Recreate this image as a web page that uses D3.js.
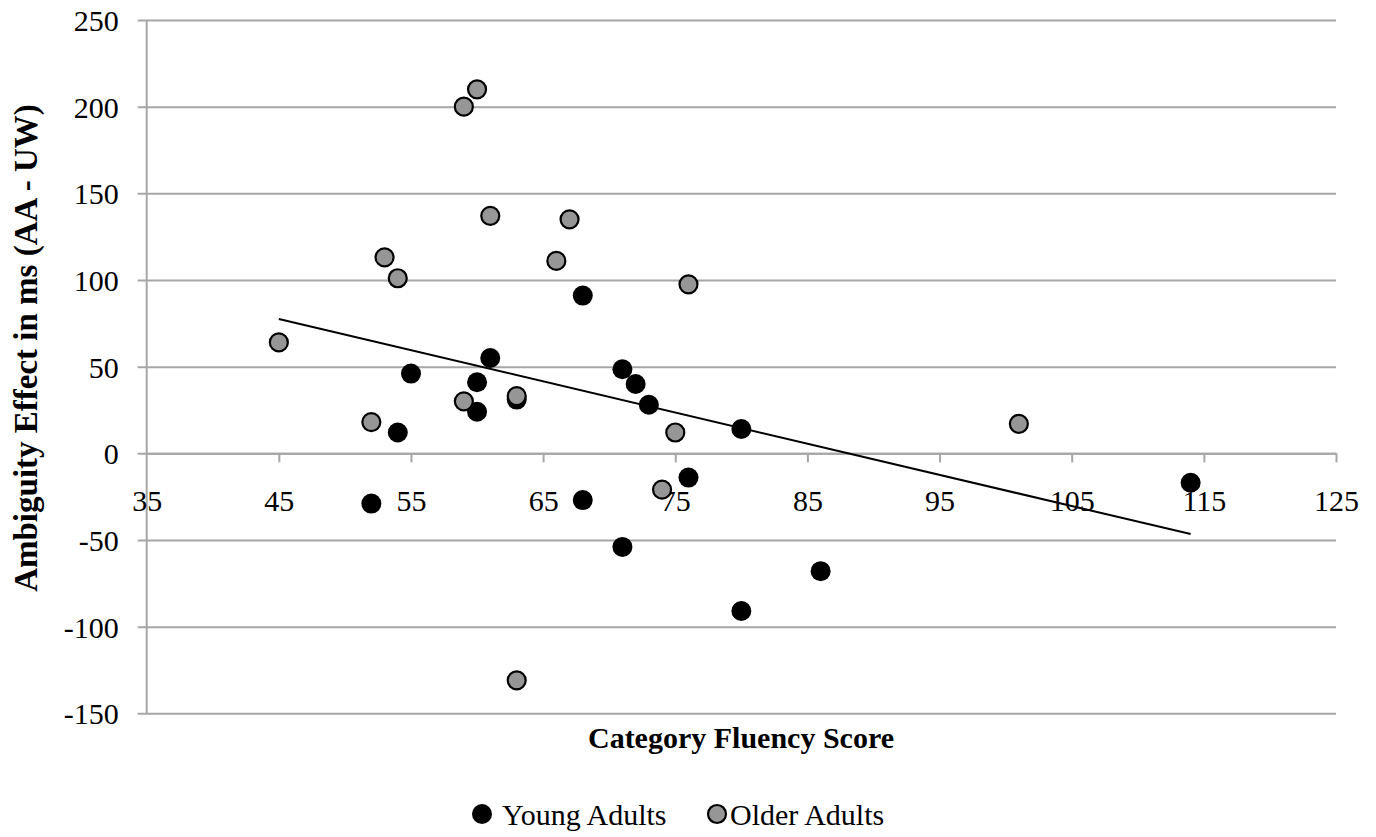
<!doctype html>
<html>
<head>
<meta charset="utf-8">
<script src="https://cdnjs.cloudflare.com/ajax/libs/d3/7.8.5/d3.min.js"></script>
<style>
  body { margin: 0; background: #fff; }
  svg text { font-family: "Liberation Serif", "Times New Roman", serif; fill: #000; }
  .axis text { font-size: 30px; }
  .title { font-size: 30px; font-weight: bold; }
  .ytitle { font-size: 33px; font-weight: bold; }
  .legend text { font-size: 30px; }
</style>
</head>
<body>
<div id="chart"></div>
<script>
// Category fluency score vs ambiguity effect
var youngX = [52, 54, 55, 60, 60, 61, 63, 68, 68, 71, 72, 73, 71, 76, 80, 80, 86, 114];
var youngY = [-29, 12, 46, 41, 24, 55, 31, 91, -27, 48.5, 40, 28, -54, -14, 14, -91, -68, -17];

var olderX = [45, 52, 53, 54, 59, 60, 59, 61, 63, 63, 66, 67, 75, 74, 76, 101];
var olderY = [64, 18, 113, 101, 200, 210, 30, 137, 33, -131, 111, 135, 12, -21, 97.5, 17];

// linear trend line end points (all participants)
var trendX = [45, 114];
var trendY = [77.5, -46.6];

var xTicks = [35, 45, 55, 65, 75, 85, 95, 105, 115, 125];
var yTicks = [-150, -100, -50, 0, 50, 100, 150, 200, 250];

var seriesNames = ["Young Adults", "Older Adults"];

var width = 1376, height = 837;
var gridColor = "#a6a6a6";

var svg = d3.select("#chart").append("svg")
  .attr("width", width)
  .attr("height", height);

var x = d3.scaleLinear().domain([35, 125]).range([146.7, 1336]);
var y = d3.scaleLinear().domain([-150, 250]).range([713.3, 20]);

// horizontal gridlines + y axis
var yAxis = d3.axisLeft(y)
  .tickValues(yTicks)
  .tickSize(-(x.range()[1] - x.range()[0]))
  .tickPadding(28)
  .tickFormat(d => String(d));

var yg = svg.append("g")
  .attr("class", "axis")
  .attr("transform", "translate(" + x.range()[0] + ",0)")
  .call(yAxis);
yg.select(".domain").remove();
yg.selectAll(".tick line")
  .attr("x1", -9)
  .attr("stroke", gridColor)
  .attr("stroke-width", 2);
yg.selectAll(".tick text").attr("dy", "0.35em");

// vertical axis line
svg.append("line")
  .attr("x1", x(35)).attr("x2", x(35))
  .attr("y1", y(250)).attr("y2", y(-150))
  .attr("stroke", gridColor)
  .attr("stroke-width", 2);

// x axis at y = 0
var xAxis = d3.axisBottom(x)
  .tickValues(xTicks)
  .tickSize(9)
  .tickPadding(27)
  .tickSizeOuter(0);

var xg = svg.append("g")
  .attr("class", "axis")
  .attr("transform", "translate(0," + y(0) + ")")
  .call(xAxis);
xg.select(".domain").attr("stroke", gridColor).attr("stroke-width", 2);
xg.selectAll(".tick line").attr("stroke", gridColor).attr("stroke-width", 2);
xg.selectAll(".tick").filter(function(d){ return d === 35; }).select("line").remove();

// points
var young = youngX.map(function(v, i){ return {x: v, y: youngY[i]}; });
var older = olderX.map(function(v, i){ return {x: v, y: olderY[i]}; });

svg.append("g").selectAll("circle")
  .data(young)
  .enter()
  .append("circle")
  .attr("cx", d => x(d.x))
  .attr("cy", d => y(d.y))
  .attr("r", 10)
  .attr("fill", "#000");

svg.append("g").selectAll("circle")
  .data(older)
  .enter()
  .append("circle")
  .attr("cx", d => x(d.x))
  .attr("cy", d => y(d.y))
  .attr("r", 9)
  .attr("fill", "#969696")
  .attr("stroke", "#000")
  .attr("stroke-width", 2.2);

// trend line
var trend = trendX.map(function(v, i){ return [v, trendY[i]]; });
svg.append("path")
  .datum(trend)
  .attr("fill", "none")
  .attr("stroke", "#000")
  .attr("stroke-width", 2)
  .attr("d", d3.line().x(d => x(d[0])).y(d => y(d[1])));

// axis titles
svg.append("text")
  .attr("class", "title")
  .attr("text-anchor", "middle")
  .attr("x", 741)
  .attr("y", 748)
  .text("Category Fluency Score");

svg.append("text")
  .attr("class", "ytitle")
  .attr("text-anchor", "middle")
  .attr("transform", "translate(37,348) rotate(-90)")
  .text("Ambiguity Effect in ms (AA - UW)");

// legend
var legend = svg.append("g").attr("class", "legend");
var legendPos = [482, 717];
legend.selectAll("circle")
  .data(seriesNames)
  .enter()
  .append("circle")
  .attr("cx", (d, i) => legendPos[i])
  .attr("cy", 814)
  .attr("r", (d, i) => i === 0 ? 10 : 9)
  .attr("fill", (d, i) => i === 0 ? "#000" : "#969696")
  .attr("stroke", (d, i) => i === 0 ? "none" : "#000")
  .attr("stroke-width", 2.2);
legend.selectAll("text")
  .data(seriesNames)
  .enter()
  .append("text")
  .attr("x", (d, i) => legendPos[i] + (i === 0 ? 20 : 13))
  .attr("y", 825)
  .text(d => d);
</script>
</body>
</html>
